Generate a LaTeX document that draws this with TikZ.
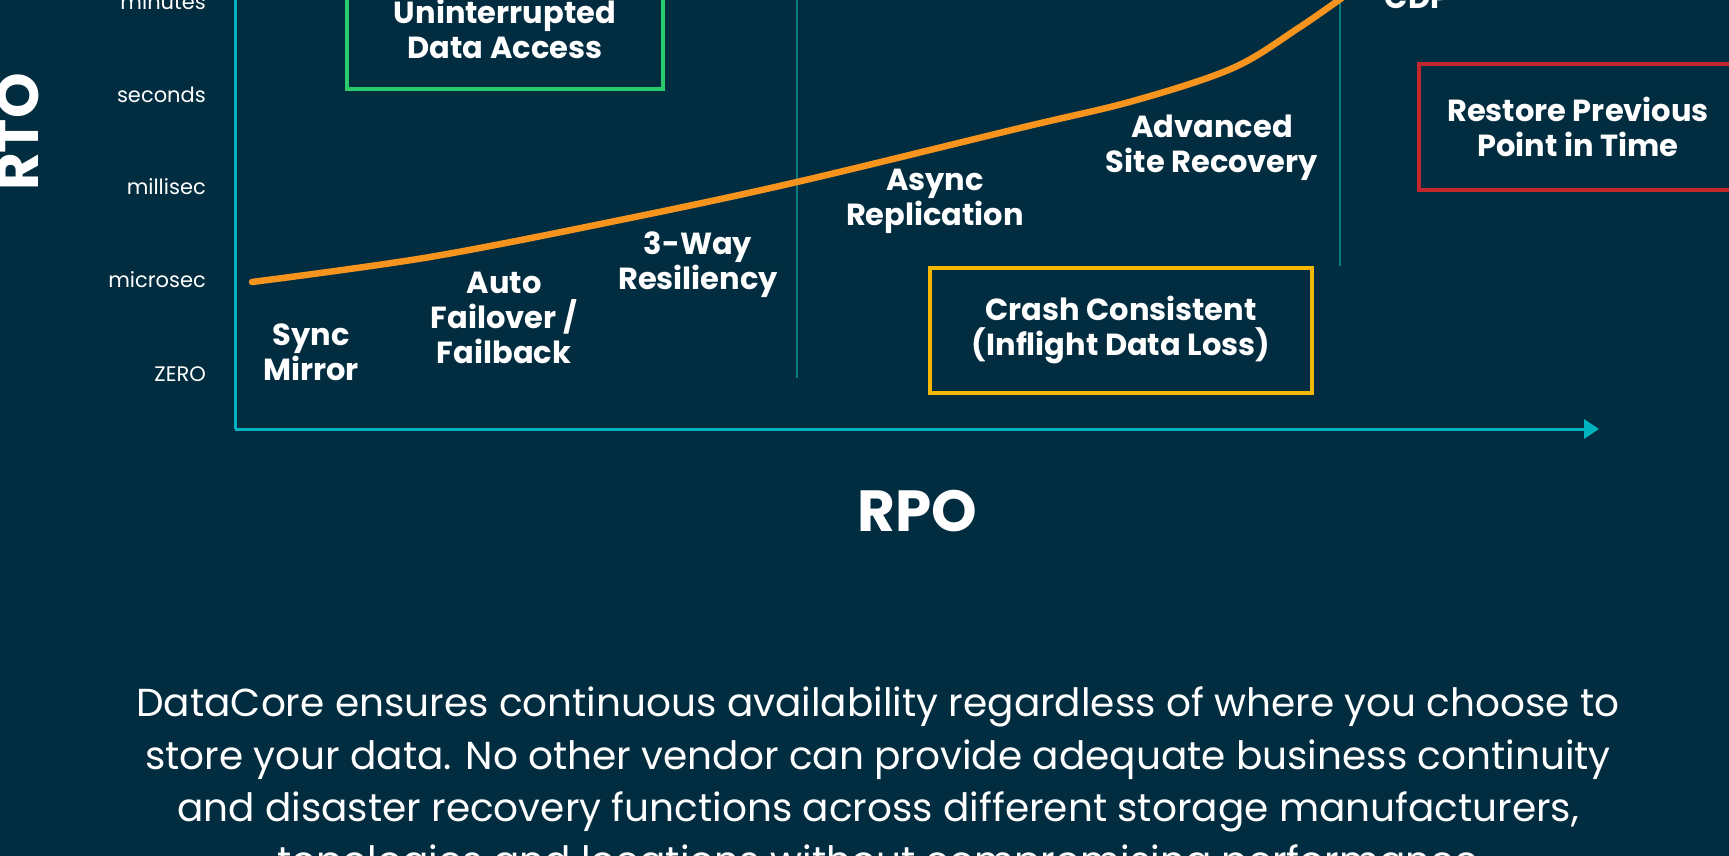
\documentclass[tikz,border=0pt]{standalone}
\usepackage{fontspec}
\setmainfont{Poppins}
\usetikzlibrary{arrows.meta,positioning}
\definecolor{cnavy}{HTML}{022D40}
\definecolor{cteal}{HTML}{00B3BE}
\definecolor{cdivider}{HTML}{0D7A80}
\definecolor{corange}{HTML}{F7941E}
\definecolor{cgreen}{HTML}{2BCB6B}
\definecolor{cyellow}{HTML}{F5B800}
\definecolor{cred}{HTML}{C1272D}

\begin{document}
\begin{tikzpicture}[
    x=1pt, y=-1pt,
    tick/.style={anchor=east, inner sep=0pt, text=white, font=\fontsize{21}{24}\selectfont},
    lbl/.style={align=center, inner sep=0pt, text=white, font=\fontsize{30.5}{35}\selectfont\bfseries},
    framebox/.style={lbl, draw, line width=4pt, minimum width=#1, minimum height=125pt},
    axis/.style={draw=cteal, line width=3pt},
    divider/.style={draw=cdivider, line width=1.5pt},
    title/.style={inner sep=0pt, text=white, font=\fontsize{58}{60}\selectfont\bfseries},
    blurb/.style={align=center, inner sep=0pt, text=white, font=\fontsize{39}{52.6}\selectfont},
]

% Background and frame
\fill[cnavy] (0,0) rectangle (1729,856);
\useasboundingbox (0,0) rectangle (1729,856);
\clip (0,0) rectangle (1729,856);

% Axes
\coordinate (ytop)   at (235,-5);
\coordinate (origin) at (235,429);
\coordinate (xtip)   at (1599,429);
\draw[axis] (ytop) -- (origin);
\draw[axis, -{Triangle[length=15pt,width=19pt]}] (origin) -- (xtip);

% RTO ticks
\node[tick] (tmin)   at (206,2)   {minutes};
\node[tick] (tsec)   at (206,95)  {seconds};
\node[tick] (tmilli) at (206,187) {millisec};
\node[tick] (tmicro) at (206,280) {microsec};
\node[tick] (tzero)  at (206,374) {ZERO};

% Axis titles
\node[title, rotate=90] (rto) at (18,132) {RTO};
\node[title] (rpo) at (917,511) {RPO};

% Zone dividers
\coordinate (div1top) at (797,-5);
\coordinate (div1bot) at (797,378);
\coordinate (div2top) at (1340,-5);
\coordinate (div2bot) at (1340,266);
\draw[divider] (div1top) -- (div1bot);
\draw[divider] (div2top) -- (div2bot);

% Recovery curve
\draw[corange, line width=6.5pt, line cap=round]
    plot[smooth, tension=0.55] coordinates {(252,282) (430,257) (630,218) (797,182)
      (1020,128) (1133,101) (1233,68) (1300,27) (1350,-8)};

% Technologies along the curve
\node[lbl] (sync)     at (311,352)  {Sync\\Mirror};
\node[lbl] (auto)     at (504,318)  {Auto\\Failover /\\Failback};
\node[lbl] (threeway) at (698,265)  {3-Way\\Resiliency};
\node[lbl] (async)    at (935,201)  {Async\\Replication};
\node[lbl] (advanced) at (1212,148) {Advanced\\Site Recovery};
\node[lbl] (cdp)      at (1417,-2)  {CDP};

% Outcome boxes
\node[framebox=316pt, draw=cgreen, minimum height=120pt] (uninterrupted) at (505,29) {Uninterrupted\\Data Access};
\node[framebox=382pt, draw=cyellow] (crash)   at (1121,330) {Crash Consistent\\(Inflight Data Loss)};
\node[framebox=318pt, draw=cred]    (restore) at (1578,127) {Restore Previous\\Point in Time};

% Caption
\node[blurb] (caption) at (878,786) {DataCore ensures continuous availability regardless of where you choose to\\
store your data. No other vendor can provide adequate business continuity\\
and disaster recovery functions across different storage manufacturers,\\
topologies and locations without compromising performance};

\end{tikzpicture}
\end{document}
